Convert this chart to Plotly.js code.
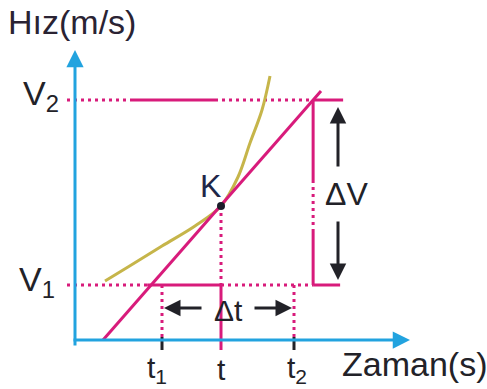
<!DOCTYPE html>
<html>
<head>
<meta charset="utf-8">
<script src="https://cdn.plot.ly/plotly-3.0.1.min.js"></script>
<style>
  html, body { margin: 0; padding: 0; background: #ffffff; }
  #chart { width: 487px; height: 389px; }
</style>
</head>
<body>
<div id="chart"></div>
<script>
// Velocity levels and time instants on the diagram
const V1 = 5.5;
const V2 = 24.0;
const t1 = 8.7;
const tK = 14.6;
const t2 = 21.9;

// Curved velocity-time graph (non-uniform motion)
const curveX = [3.0, 5.3, 8.7, 12.0, 14.6, 16.3, 17.5, 18.7, 19.5];
const curveY = [5.9, 7.3, 9.4, 11.4, 13.4, 16.3, 19.7, 23.0, 26.4];

// Tangent line through K (start and end points)
const tangentX = [2.8, 24.6];
const tangentY = [0.0, 24.9];

// Point K on the curve
const pointK = { x: 14.6, y: 13.4 };

const MAG = '#d81b7b';
const BLUE = '#22a3df';
const INK = '#222228';
const DOT = '3px,4px';
const FONT = 'Liberation Sans, Arial, sans-serif';

const slope = (tangentY[1] - tangentY[0]) / (tangentX[1] - tangentX[0]);
const xAtV2 = tangentX[0] + (V2 - tangentY[0]) / slope;   // where the tangent meets V2
const xAtV1 = tangentX[0] + (V1 - tangentY[0]) / slope;   // where the tangent meets V1

function seg(x0, y0, x1, y1, color, width, dash) {
  return {
    type: 'scatter', mode: 'lines', hoverinfo: 'skip', showlegend: false,
    x: [x0, x1], y: [y0, y1],
    line: { color: color, width: width, dash: dash || 'solid' }
  };
}

const traces = [];

// V2 level line
traces.push(seg(-0.8, V2, 5.5, V2, MAG, 3, DOT));
traces.push(seg(5.5, V2, 14.0, V2, MAG, 3));
traces.push(seg(14.0, V2, xAtV2, V2, MAG, 3, DOT));
traces.push(seg(xAtV2, V2, xAtV2 + 3.0, V2, MAG, 3));

// V1 level line
traces.push(seg(-0.8, V1, xAtV1 - 0.4, V1, MAG, 3, DOT));
traces.push(seg(xAtV1 - 0.4, V1, tK, V1, MAG, 3));
traces.push(seg(tK, V1, xAtV2, V1, MAG, 3, DOT));
traces.push(seg(xAtV2, V1, xAtV2 + 2.7, V1, MAG, 3));

// Vertical line joining V1 and V2
traces.push(seg(xAtV2, V2, xAtV2, 16.0, MAG, 3));
traces.push(seg(xAtV2, 16.0, xAtV2, 11.0, MAG, 3, DOT));
traces.push(seg(xAtV2, 11.0, xAtV2, V1, MAG, 3));

// Drop lines to the time axis
traces.push(seg(tK, pointK.y, tK, V1, MAG, 3, DOT));
traces.push(seg(tK, V1, tK, -1.0, MAG, 3));
traces.push(seg(t1, V1, t1, 0, MAG, 3, DOT));
traces.push(seg(t2, V1, t2, 0, MAG, 3, DOT));

// Ticks for t1 and t2
traces.push(seg(t1, 0.3, t1, -1.0, INK, 3));
traces.push(seg(t2, 0.3, t2, -1.0, INK, 3));

// Curve
traces.push({
  type: 'scatter', mode: 'lines', hoverinfo: 'skip', showlegend: false,
  x: curveX, y: curveY,
  line: { color: '#c6b54a', width: 3, shape: 'spline', smoothing: 1 }
});

// Tangent line
traces.push(seg(tangentX[0], tangentY[0], tangentX[1], tangentY[1], MAG, 3));

// Point K
traces.push({
  type: 'scatter', mode: 'markers', hoverinfo: 'skip', showlegend: false,
  x: [pointK.x], y: [pointK.y],
  marker: { color: '#1c1c2a', size: 8 }
});

// Arrow from (xTail, yTail) to (xHead, yHead)
function arrow(xHead, yHead, xTail, yTail, color, width, size) {
  return {
    x: xHead, y: yHead, ax: xTail, ay: yTail,
    xref: 'x', yref: 'y', axref: 'x', ayref: 'y',
    text: '', showarrow: true,
    arrowhead: 2, arrowsize: size, arrowwidth: width, arrowcolor: color
  };
}

function label(text, x, y, size, opts) {
  return Object.assign({
    x: x, y: y, xref: 'x', yref: 'y', text: text, showarrow: false,
    font: { family: FONT, size: size, color: INK },
    xanchor: 'center', yanchor: 'middle'
  }, opts || {});
}

const annotations = [
  // axes
  arrow(33.5, 0, -0.3, 0, BLUE, 3, 1.15),
  arrow(0, 29.0, 0, -0.7, BLUE, 3, 1.15),

  // Δt arrows
  arrow(t1 + 0.2, 3.2, 12.8, 3.2, INK, 3, 1.1),
  arrow(t2 - 0.2, 3.2, 17.8, 3.2, INK, 3, 1.1),

  // ΔV arrows
  arrow(26.3, V2 - 0.7, 26.3, 17.2, INK, 3, 1.1),
  arrow(26.3, V1 + 0.5, 26.3, 12.0, INK, 3, 1.1),

  // texts
  label('Δt', 15.3, 3.0, 30),
  label('ΔV', 27.1, 14.6, 32),
  label('K', 13.5, 15.4, 32, { font: { family: FONT, size: 32, color: '#1e2748' } }),

  label('V<sub>2</sub>', -1.4, V2 + 0.5, 34, { xanchor: 'right' }),
  label('V<sub>1</sub>', -1.8, V1 + 0.4, 34, { xanchor: 'right' }),

  label('t<sub>1</sub>', t1, -2.9, 30, { xshift: -5 }),
  label('t', tK, -2.9, 30),
  label('t<sub>2</sub>', t2, -2.9, 30, { xshift: 3 }),

  { text: 'Hız(m/s)', x: 0.012, y: 1 - 22 / 389, xref: 'paper', yref: 'paper',
    xanchor: 'left', yanchor: 'middle', showarrow: false,
    font: { family: FONT, size: 34, color: '#2a2333' } },
  { text: 'Zaman(s)', x: 1.004, y: 1 - 364 / 389, xref: 'paper', yref: 'paper',
    xanchor: 'right', yanchor: 'middle', showarrow: false,
    font: { family: FONT, size: 34, color: INK } }
];

const layout = {
  width: 487, height: 389,
  margin: { l: 0, r: 0, t: 0, b: 0 },
  paper_bgcolor: '#ffffff', plot_bgcolor: '#ffffff',
  showlegend: false,
  xaxis: { range: [-7.5, 41.2], showgrid: false, zeroline: false, showline: false,
           showticklabels: false, ticks: '', fixedrange: true },
  yaxis: { range: [-4.9, 34.0], showgrid: false, zeroline: false, showline: false,
           showticklabels: false, ticks: '', fixedrange: true },
  annotations: annotations
};

Plotly.newPlot('chart', traces, layout, { staticPlot: true, displayModeBar: false });
</script>
</body>
</html>
